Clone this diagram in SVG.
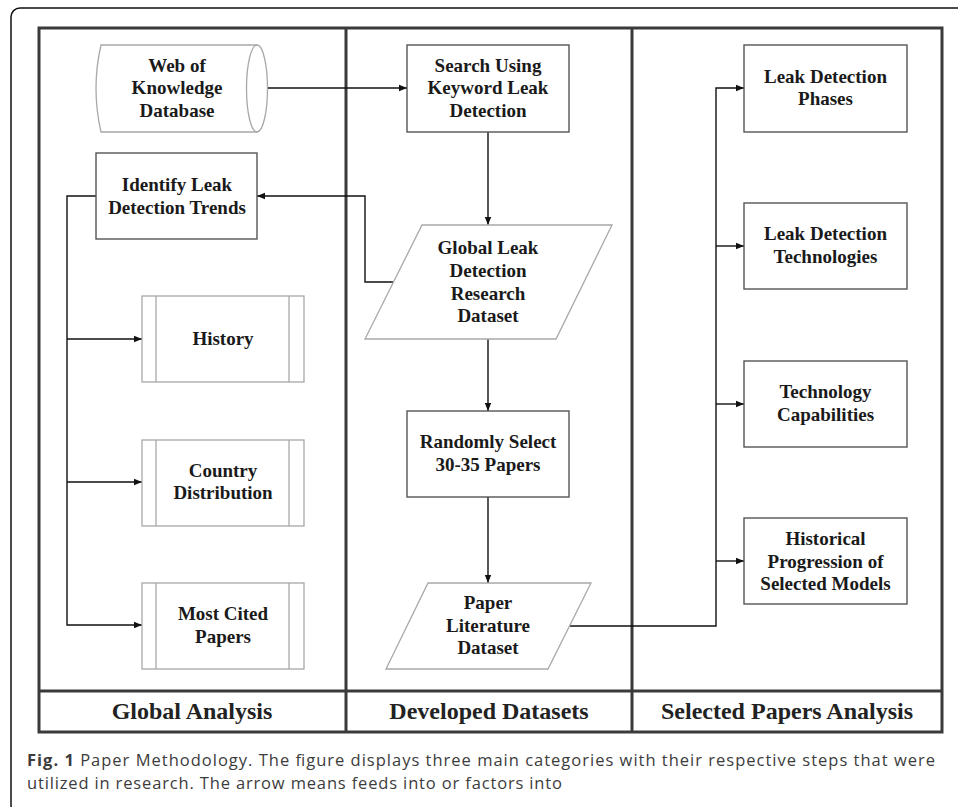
<svg xmlns="http://www.w3.org/2000/svg" width="958" height="807" viewBox="0 0 958 807">
<style>
.frame{fill:none;stroke:#111;stroke-width:1.5}
.tbl{fill:none;stroke:#3a3a3a;stroke-width:3}
.box{fill:#fff;stroke:#555;stroke-width:1.4}
.lt{fill:#fff;stroke:#a8a8a8;stroke-width:1.3}
.ltl{fill:none;stroke:#a8a8a8;stroke-width:1.3}
.t{font-family:"Liberation Serif","Times New Roman",serif;font-weight:bold;font-size:19px;fill:#1a1a1a;text-anchor:middle}
.h{font-family:"Liberation Serif","Times New Roman",serif;font-weight:bold;font-size:24px;fill:#222;text-anchor:middle}
.cap{font-family:"Open Sans","Noto Sans",sans-serif;font-size:16.5px;fill:#3c3c3c}
.con{fill:none;stroke:#111;stroke-width:1.4}
</style>
<defs>
<marker id="ah" viewBox="0 0 10 10" refX="10" refY="5" markerWidth="8" markerHeight="8" markerUnits="userSpaceOnUse" orient="auto">
<path d="M0,1 L10,5 L0,9 Z" fill="#111"/>
</marker>
</defs>
<rect class="frame" x="11" y="8" width="970" height="806" rx="9"/>
<g id="table">
<rect class="tbl" x="39" y="28" width="903" height="704"/>
<line class="tbl" x1="39" y1="691" x2="942" y2="691"/>
<line class="tbl" x1="346" y1="28" x2="346" y2="732"/>
<line class="tbl" x1="632" y1="28" x2="632" y2="732"/>
<text class="h" x="192" y="719">Global Analysis</text>
<text class="h" x="489" y="719">Developed Datasets</text>
<text class="h" x="787" y="719">Selected Papers Analysis</text>
</g>
<g id="connectors">
<path class="con" d="M267 88 H407" marker-end="url(#ah)"/>
<path class="con" d="M488 132 V225" marker-end="url(#ah)"/>
<path class="con" d="M393 282 H365 V196 H257" marker-end="url(#ah)"/>
<path class="con" d="M488 339 V411" marker-end="url(#ah)"/>
<path class="con" d="M488 497 V583" marker-end="url(#ah)"/>
<path class="con" d="M96 196 H67 V625 H142" marker-end="url(#ah)"/>
<path class="con" d="M67 339 H142" marker-end="url(#ah)"/>
<path class="con" d="M67 482 H142" marker-end="url(#ah)"/>
<path class="con" d="M569 626 H716 V88 H744" marker-end="url(#ah)"/>
<path class="con" d="M716 246 H744" marker-end="url(#ah)"/>
<path class="con" d="M716 404 H744" marker-end="url(#ah)"/>
<path class="con" d="M716 561 H744" marker-end="url(#ah)"/>
</g>
<g id="web-of-knowledge">
<path class="lt" d="M101 45 H257 A10.5 43.5 0 0 1 257 132 H101 Q91 88.5 101 45 Z"/>
<path class="ltl" d="M257 45 A10.5 43.5 0 0 0 257 132"/>
<text class="t" x="177" y="72">Web of</text>
<text class="t" x="177" y="94">Knowledge</text>
<text class="t" x="177" y="117">Database</text>
</g>
<g id="search">
<rect class="box" x="407" y="45" width="162" height="87"/>
<text class="t" x="488" y="72">Search Using</text>
<text class="t" x="488" y="94">Keyword Leak</text>
<text class="t" x="488" y="117">Detection</text>
</g>
<g id="identify">
<rect class="box" x="96" y="153" width="161" height="86"/>
<text class="t" x="177" y="191">Identify Leak</text>
<text class="t" x="177" y="214">Detection Trends</text>
</g>
<g id="history">
<rect class="lt" x="142" y="296" width="162" height="86"/>
<path class="ltl" d="M156 296 V382 M289 296 V382"/>
<text class="t" x="223" y="345">History</text>
</g>
<g id="country">
<rect class="lt" x="142" y="440" width="162" height="86"/>
<path class="ltl" d="M156 440 V526 M289 440 V526"/>
<text class="t" x="223" y="477">Country</text>
<text class="t" x="223" y="499">Distribution</text>
</g>
<g id="most-cited">
<rect class="lt" x="142" y="583" width="162" height="86"/>
<path class="ltl" d="M156 583 V669 M289 583 V669"/>
<text class="t" x="223" y="620">Most Cited</text>
<text class="t" x="223" y="643">Papers</text>
</g>
<g id="global-dataset">
<path class="lt" d="M422 225 H612 L556 339 H365 Z"/>
<text class="t" x="488" y="254">Global Leak</text>
<text class="t" x="488" y="277">Detection</text>
<text class="t" x="488" y="300">Research</text>
<text class="t" x="488" y="322">Dataset</text>
</g>
<g id="random-select">
<rect class="box" x="407" y="411" width="162" height="86"/>
<text class="t" x="488" y="448">Randomly Select</text>
<text class="t" x="488" y="471">30-35 Papers</text>
</g>
<g id="paper-dataset">
<path class="lt" d="M428 583 H591 L548 669 H386 Z"/>
<text class="t" x="488" y="609">Paper</text>
<text class="t" x="488" y="632">Literature</text>
<text class="t" x="488" y="654">Dataset</text>
</g>
<g id="phases">
<rect class="box" x="744" y="45" width="163" height="87"/>
<text class="t" x="825.5" y="83">Leak Detection</text>
<text class="t" x="825.5" y="105">Phases</text>
</g>
<g id="technologies">
<rect class="box" x="744" y="203" width="163" height="86"/>
<text class="t" x="825.5" y="240">Leak Detection</text>
<text class="t" x="825.5" y="263">Technologies</text>
</g>
<g id="capabilities">
<rect class="box" x="744" y="361" width="163" height="86"/>
<text class="t" x="825.5" y="398">Technology</text>
<text class="t" x="825.5" y="421">Capabilities</text>
</g>
<g id="historical">
<rect class="box" x="744" y="518" width="163" height="86"/>
<text class="t" x="825.5" y="545">Historical</text>
<text class="t" x="825.5" y="568">Progression of</text>
<text class="t" x="825.5" y="590">Selected Models</text>
</g>
<g id="caption">
<text class="cap" x="27" y="766" textLength="908" lengthAdjust="spacing"><tspan font-weight="bold">Fig. 1</tspan> Paper Methodology. The figure displays three main categories with their respective steps that were</text>
<text class="cap" x="27" y="789" textLength="535" lengthAdjust="spacing">utilized in research. The arrow means feeds into or factors into</text>
</g>
</svg>
